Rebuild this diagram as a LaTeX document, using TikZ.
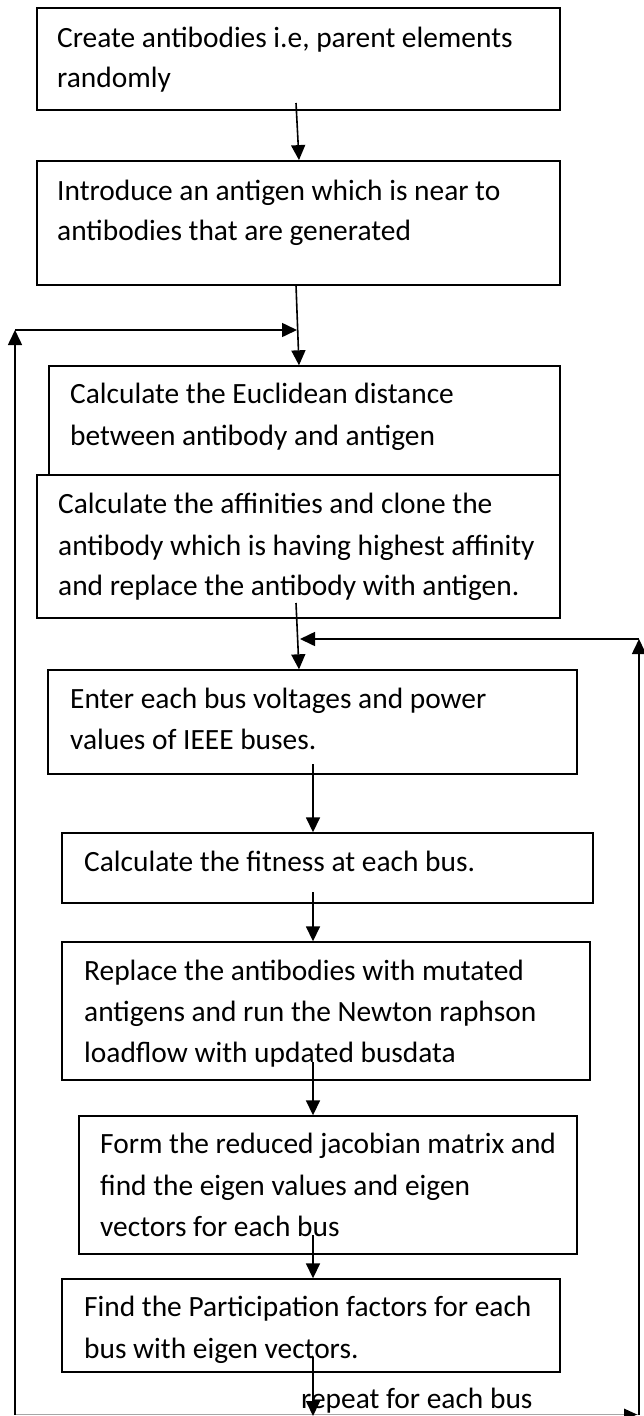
\documentclass[tikz,border=0pt]{standalone}
\usepackage{fontspec}
\setmainfont{Carlito}
\usetikzlibrary{arrows.meta}
\begin{document}
\begin{tikzpicture}[x=1pt,y=-1pt,
  box/.style={draw, line width=1.4pt, fill=white, inner sep=0pt},
  thickbox/.style={box, line width=1.8pt},
  txt/.style={anchor=base west, inner sep=0pt, font=\fontsize{29.4}{41}\selectfont},
  arr/.style={line width=1.6pt, -{Triangle[length=15pt,width=14pt]}},
  bottomline/.style={draw=gray!70, line width=1pt}]
\useasboundingbox (0,0) rectangle (643,1416);
% boxes
\node[thickbox, minimum width=523pt, minimum height=102pt] (b1) at (298.5,59) {};
\node[thickbox, minimum width=523pt, minimum height=124pt] (b2) at (298.5,223) {};
\node[box, minimum width=511pt, minimum height=109pt] (b3) at (304.5,420.5) {};
\node[box, minimum width=523pt, minimum height=143pt] (b4) at (298.5,546.5) {};
\node[box, minimum width=529pt, minimum height=104pt] (b5) at (312.5,722) {};
\node[box, minimum width=531pt, minimum height=70pt] (b6) at (327.5,868) {};
\node[box, minimum width=528pt, minimum height=138pt] (b7) at (326,1011) {};
\node[box, minimum width=498pt, minimum height=138pt] (b8) at (328,1185) {};
\node[box, minimum width=498pt, minimum height=93pt] (b9) at (311,1325.5) {};
% texts
\node[txt] (t1a) at (57,47) {Create antibodies i.e, parent elements};
\node[txt] (t1b) at (57,87) {randomly};
\node[txt] (t2a) at (57,200) {Introduce an antigen which is near to};
\node[txt] (t2b) at (57,240) {antibodies that are generated};
\node[txt] (t3a) at (70,403) {Calculate the Euclidean distance};
\node[txt] (t3b) at (70,445) {between antibody and antigen};
\node[txt] (t4a) at (58,513) {Calculate the affinities and clone the};
\node[txt] (t4b) at (58,555) {antibody which is having highest affinity};
\node[txt] (t4c) at (58,595) {and replace the antibody with antigen.};
\node[txt] (t5a) at (70,708) {Enter each bus voltages and power};
\node[txt] (t5b) at (70,749) {values of IEEE buses.};
\node[txt] (t6a) at (84,871) {Calculate the fitness at each bus.};
\node[txt] (t7a) at (84,980) {Replace the antibodies with mutated};
\node[txt] (t7b) at (84,1021) {antigens and run the Newton raphson};
\node[txt] (t7c) at (84,1062) {loadflow with updated busdata};
\node[txt] (t8a) at (100,1153) {Form the reduced jacobian matrix and};
\node[txt] (t8b) at (100,1195) {find the eigen values and eigen};
\node[txt] (t8c) at (100,1236) {vectors for each bus};
\node[txt] (t9a) at (84,1316) {Find the Participation factors for each};
\node[txt] (t9b) at (84,1358) {bus with eigen vectors.};
\node[txt] (rep) at (301,1408) {repeat for each bus};
% connector coordinates
\coordinate (s1) at (296,103);
\coordinate (s2) at (296,285);
\coordinate (s3) at (296,603);
\coordinate (s4) at (313,764);
\coordinate (s5) at (313,892);
\coordinate (s6) at (313,1062);
\coordinate (s7) at (313,1235);
\coordinate (s8) at (313,1357);
\coordinate (e8) at (313,1416);
\coordinate (lb) at (15,1414.5);
\coordinate (lt) at (15,330);
\coordinate (lj) at (297,330);
\coordinate (rb) at (639,1414.5);
\coordinate (rt) at (639,639);
\coordinate (rj) at (300,639);
% bottom line
\draw[bottomline] (lb) -- (rb);
\fill (rb) ++(-2,0) -- ++(-13,-6) -- ++(0,12) -- cycle;
% main connectors
\draw[arr] (s1) -- (299,0 |- b2.north);
\draw[arr] (s2) -- (299,0 |- b3.north);
\draw[arr] (s3) -- (299,0 |- b5.north);
\draw[arr] (s4) -- (313,0 |- b6.north);
\draw[arr] (s5) -- (313,0 |- b7.north);
\draw[arr] (s6) -- (313,0 |- b8.north);
\draw[arr] (s7) -- (313,0 |- b9.north);
\draw[arr] (s8) -- (e8);
% feedback loops
\draw[arr] (lb) -- (lt);
\draw[arr] (lt) -- (lj);
\draw[arr] (rb) -- (rt);
\draw[arr] (rt) -- (rj);
\end{tikzpicture}
\end{document}
